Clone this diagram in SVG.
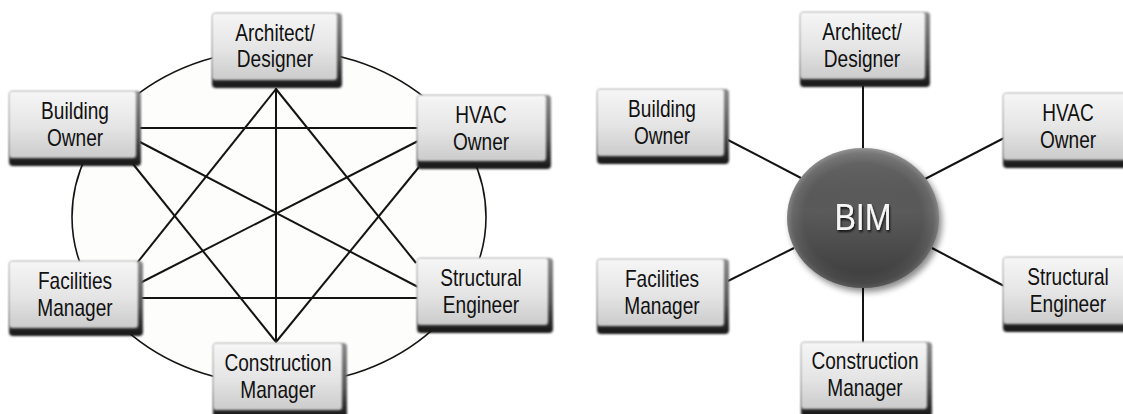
<svg xmlns="http://www.w3.org/2000/svg" width="1123" height="414" viewBox="0 0 1123 414">
  <defs>
    <!-- light face of a participant box -->
    <linearGradient id="face" x1="0" y1="0" x2="0" y2="1">
      <stop offset="0" stop-color="#f6f6f6"/>
      <stop offset="0.55" stop-color="#e4e4e4"/>
      <stop offset="1" stop-color="#cbcbcb"/>
    </linearGradient>
    <!-- dark bevel showing along the right and bottom edges -->
    <linearGradient id="bevel" x1="0" y1="0" x2="0" y2="1">
      <stop offset="0" stop-color="#8a8a8a"/>
      <stop offset="0.6" stop-color="#555555"/>
      <stop offset="1" stop-color="#151515"/>
    </linearGradient>
    <radialGradient id="bimFill" cx="0.5" cy="0.5" r="0.5">
      <stop offset="0" stop-color="#5b5b5b"/>
      <stop offset="0.78" stop-color="#5a5a5a"/>
      <stop offset="0.93" stop-color="#6a6a6a"/>
      <stop offset="1" stop-color="#858585"/>
    </radialGradient>
    <linearGradient id="bimShade" x1="0" y1="0" x2="0" y2="1">
      <stop offset="0" stop-color="#ffffff" stop-opacity="0.12"/>
      <stop offset="0.45" stop-color="#000000" stop-opacity="0"/>
      <stop offset="1" stop-color="#000000" stop-opacity="0.35"/>
    </linearGradient>
    <filter id="soft" x="-5%" y="-5%" width="110%" height="110%">
      <feGaussianBlur stdDeviation="1.1"/>
    </filter>
    <filter id="shadow" x="-20%" y="-20%" width="140%" height="140%">
      <feGaussianBlur stdDeviation="3"/>
    </filter>
    <filter id="txtShadow" x="-20%" y="-20%" width="140%" height="140%">
      <feGaussianBlur in="SourceAlpha" stdDeviation="1"/>
      <feOffset dx="1.5" dy="2" result="s"/>
      <feFlood flood-color="#000" flood-opacity="0.8"/>
      <feComposite in2="s" operator="in"/>
      <feMerge><feMergeNode/><feMergeNode in="SourceGraphic"/></feMerge>
    </filter>
  </defs>
  <style>
    .base { fill: url(#bevel); filter: url(#soft); }
    .face { fill: url(#face); filter: url(#soft); }
    .lbl { font-family: "Liberation Sans", Arial, sans-serif; font-size: 23px; fill: #111111; text-anchor: middle; }
    .link { stroke: #141414; stroke-width: 2; fill: none; }
    .ring { stroke: #141414; stroke-width: 1.6; fill: #fdfdfc; }
    .bim { font-family: "Liberation Sans", Arial, sans-serif; font-size: 37px; fill: #f6f6f6; text-anchor: middle; }
  </style>

  <rect width="1123" height="414" fill="#ffffff"/>

  <!-- ===== Traditional: every party linked to every other ===== -->
  <g id="connectors-left">
    <ellipse class="ring" cx="279" cy="217" rx="207" ry="168"/>
    <line class="link" x1="276" y1="88" x2="276" y2="343"/>
    <line class="link" x1="276" y1="89" x2="137" y2="263"/>
    <line class="link" x1="276" y1="89" x2="416" y2="263"/>
    <line class="link" x1="276" y1="342" x2="133" y2="164"/>
    <line class="link" x1="276" y1="342" x2="419" y2="167"/>
    <line class="link" x1="140" y1="128" x2="418" y2="128"/>
    <line class="link" x1="140" y1="142" x2="418" y2="287"/>
    <line class="link" x1="140" y1="283" x2="418" y2="141"/>
    <line class="link" x1="140" y1="298" x2="418" y2="298"/>
  </g>

  <g id="l-architect">
    <rect class="base" x="212" y="13" width="130" height="75" rx="4"/>
    <rect class="face" x="212" y="13" width="125" height="67" rx="3"/>
    <text class="lbl" transform="translate(275 0) scale(0.83 1)"><tspan x="0" y="41">Architect/</tspan><tspan x="0" y="67">Designer</tspan></text>
  </g>
  <g id="l-building-owner">
    <rect class="base" x="9" y="91" width="132" height="75" rx="4"/>
    <rect class="face" x="9" y="91" width="127" height="67" rx="3"/>
    <text class="lbl" transform="translate(75 0) scale(0.83 1)"><tspan x="0" y="119">Building</tspan><tspan x="0" y="146">Owner</tspan></text>
  </g>
  <g id="l-hvac-owner">
    <rect class="base" x="417" y="95" width="134" height="74" rx="4"/>
    <rect class="face" x="417" y="95" width="129" height="66" rx="3"/>
    <text class="lbl" transform="translate(481 0) scale(0.83 1)"><tspan x="0" y="123">HVAC</tspan><tspan x="0" y="150">Owner</tspan></text>
  </g>
  <g id="l-facilities-manager">
    <rect class="base" x="9" y="261" width="134" height="75" rx="4"/>
    <rect class="face" x="9" y="261" width="129" height="67" rx="3"/>
    <text class="lbl" transform="translate(75 0) scale(0.83 1)"><tspan x="0" y="289">Facilities</tspan><tspan x="0" y="316">Manager</tspan></text>
  </g>
  <g id="l-structural-engineer">
    <rect class="base" x="417" y="258" width="136" height="75" rx="4"/>
    <rect class="face" x="417" y="258" width="131" height="67" rx="3"/>
    <text class="lbl" transform="translate(481 0) scale(0.83 1)"><tspan x="0" y="286">Structural</tspan><tspan x="0" y="313">Engineer</tspan></text>
  </g>
  <g id="l-construction-manager">
    <rect class="base" x="213" y="343" width="134" height="75" rx="4"/>
    <rect class="face" x="213" y="343" width="129" height="67" rx="3"/>
    <text class="lbl" transform="translate(278 0) scale(0.83 1)"><tspan x="0" y="371">Construction</tspan><tspan x="0" y="398">Manager</tspan></text>
  </g>

  <!-- ===== BIM: every party linked through one shared model ===== -->
  <g id="connectors-right">
    <line class="link" x1="863" y1="86" x2="863" y2="150"/>
    <line class="link" x1="863" y1="285" x2="863" y2="343"/>
    <line class="link" x1="728" y1="140" x2="801" y2="178"/>
    <line class="link" x1="1004" y1="138" x2="925" y2="179"/>
    <line class="link" x1="728" y1="281" x2="794" y2="248"/>
    <line class="link" x1="1004" y1="286" x2="932" y2="248"/>
  </g>

  <g id="r-bim">
    <ellipse cx="866" cy="222" rx="76" ry="70" fill="#000" opacity="0.45" filter="url(#shadow)"/>
    <ellipse cx="863" cy="218" rx="76" ry="70" fill="url(#bimFill)"/>
    <ellipse cx="863" cy="218" rx="76" ry="70" fill="url(#bimShade)"/>
    <text class="bim" filter="url(#txtShadow)" transform="translate(863 230) scale(0.87 1)">BIM</text>
  </g>

  <g id="r-architect">
    <rect class="base" x="800" y="12" width="130" height="75" rx="4"/>
    <rect class="face" x="800" y="12" width="125" height="67" rx="3"/>
    <text class="lbl" transform="translate(862 0) scale(0.83 1)"><tspan x="0" y="40">Architect/</tspan><tspan x="0" y="67">Designer</tspan></text>
  </g>
  <g id="r-building-owner">
    <rect class="base" x="597" y="89" width="132" height="75" rx="4"/>
    <rect class="face" x="597" y="89" width="127" height="67" rx="3"/>
    <text class="lbl" transform="translate(662 0) scale(0.83 1)"><tspan x="0" y="117">Building</tspan><tspan x="0" y="144">Owner</tspan></text>
  </g>
  <g id="r-hvac-owner">
    <rect class="base" x="1003" y="93" width="134" height="75" rx="4"/>
    <rect class="face" x="1003" y="93" width="129" height="67" rx="3"/>
    <text class="lbl" transform="translate(1068 0) scale(0.83 1)"><tspan x="0" y="121">HVAC</tspan><tspan x="0" y="148">Owner</tspan></text>
  </g>
  <g id="r-facilities-manager">
    <rect class="base" x="597" y="259" width="132" height="75" rx="4"/>
    <rect class="face" x="597" y="259" width="127" height="67" rx="3"/>
    <text class="lbl" transform="translate(662 0) scale(0.83 1)"><tspan x="0" y="287">Facilities</tspan><tspan x="0" y="314">Manager</tspan></text>
  </g>
  <g id="r-structural-engineer">
    <rect class="base" x="1003" y="257" width="134" height="75" rx="4"/>
    <rect class="face" x="1003" y="257" width="129" height="67" rx="3"/>
    <text class="lbl" transform="translate(1068 0) scale(0.83 1)"><tspan x="0" y="285">Structural</tspan><tspan x="0" y="312">Engineer</tspan></text>
  </g>
  <g id="r-construction-manager">
    <rect class="base" x="801" y="342" width="131" height="75" rx="4"/>
    <rect class="face" x="801" y="342" width="126" height="67" rx="3"/>
    <text class="lbl" transform="translate(865 0) scale(0.83 1)"><tspan x="0" y="369">Construction</tspan><tspan x="0" y="396">Manager</tspan></text>
  </g>
</svg>
